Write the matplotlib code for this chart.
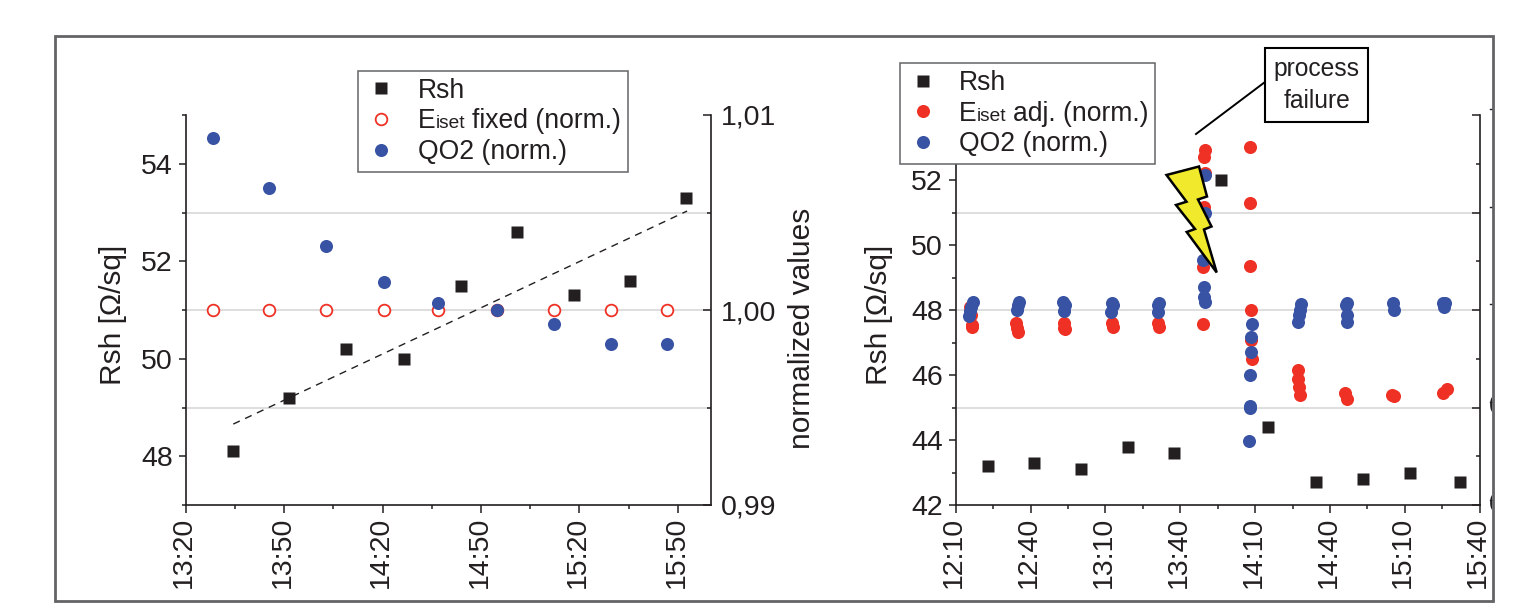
import matplotlib
matplotlib.use("Agg")
import matplotlib.pyplot as plt
from matplotlib.lines import Line2D
from matplotlib.patches import Rectangle, Polygon
from matplotlib.transforms import Affine2D, ScaledTranslation
from matplotlib.ticker import FixedLocator, FixedFormatter
from matplotlib.offsetbox import HPacker, TextArea
from matplotlib.font_manager import FontProperties

# ---- data: times are minutes since midnight, norm values are ratios ----
l_rsh_t = [814.5, 831.5, 848.9, 866.6, 884.0, 901.0, 918.4, 935.5, 952.6]
l_rsh_v = [48.1, 49.2, 50.2, 50.0, 51.5, 52.6, 51.3, 51.6, 53.3]
l_norm_t = [808.3, 825.4, 842.8, 860.5, 876.9, 894.9, 912.3, 929.5, 946.8]
l_eiset_v = [1.0, 1.0, 1.0, 1.0, 1.0, 1.0, 1.0, 1.0, 1.0]
l_qo2_v = [1.00882, 1.00626, 1.00328, 1.00144, 1.00036, 1.0, 0.99928, 0.99826, 0.99826]
l_trend_t = [814.5, 952.8]
l_trend_v = [48.66, 53.03]
l_xticks = [800, 830, 860, 890, 920, 950]
l_xlabels = ["13:20", "13:50", "14:20", "14:50", "15:20", "15:50"]
l_yticks = [48, 50, 52, 54]
l_ygrid = [49, 51, 53]
norm_ticks = [0.99, 1.0, 1.01]
norm_labels = ["0,99", "1,00", "1,01"]

r_rsh_t = [742.9, 761.4, 780.2, 799.1, 817.5, 836.3, 855.0, 874.3, 893.1, 911.9, 932.3]
r_rsh_v = [43.2, 43.3, 43.1, 43.8, 43.6, 52.0, 44.4, 42.7, 42.8, 43.0, 42.7]
r_eiset_t = [735.7, 736.0, 736.5, 736.5,
             754.1, 754.5, 754.9,
             773.3, 773.3, 773.7,
             792.6, 793.0,
             811.0, 811.4,
             830.0, 829.6, 830.0, 829.6, 829.2, 829.2,
             847.9, 847.9, 847.9, 848.3, 848.3, 848.7,
             867.1, 867.1, 867.4, 867.8,
             885.9, 886.7,
             904.8, 905.6,
             926.8, 925.2]
r_eiset_v = [1.00017, 0.99974, 0.99923, 0.99913,
             0.99933, 0.99908, 0.99887,
             0.99933, 0.99908, 0.99903,
             0.99933, 0.99913,
             0.99933, 0.99913,
             1.00821, 1.00785, 1.00703, 1.00528, 1.00221, 0.99928,
             1.00836, 1.00549, 1.00226, 1.0, 0.99846, 0.99749,
             0.99692, 0.99646, 0.99605, 0.99564,
             0.99574, 0.99544,
             0.99564, 0.99559,
             0.99595, 0.99574]
r_qo2_t = [736.8, 736.3, 735.9, 735.5,
           755.3, 754.9, 754.5,
           772.9, 773.7, 773.3,
           792.6, 793.0, 792.2,
           811.4, 811.0, 811.0,
           830.0, 830.0, 829.2, 829.6, 829.6, 830.0,
           848.7, 848.3, 848.3, 847.9, 847.9, 847.9, 847.5,
           868.2, 867.8, 867.4, 867.1,
           886.7, 886.3, 886.7, 886.7,
           905.2, 905.6,
           925.2, 926.0, 925.6]
r_qo2_v = [1.00041, 1.00015, 0.99995, 0.99969,
           1.00041, 1.00026, 1.0,
           1.00041, 1.00026, 0.99995,
           1.00036, 1.00026, 0.9999,
           1.00036, 1.00026, 0.9999,
           1.00692, 1.00497, 1.00256, 1.00118, 1.00067, 1.00041,
           0.99928, 0.99862, 0.99785, 0.99667, 0.99508, 0.99497, 0.99328,
           1.00031, 1.0, 0.99974, 0.99938,
           1.00036, 1.00026, 0.99974, 0.99938,
           1.00036, 1.0,
           1.00036, 1.00036, 1.00015]
r_xticks = [730, 760, 790, 820, 850, 880, 910, 940]
r_xlabels = ["12:10", "12:40", "13:10", "13:40", "14:10", "14:40", "15:10", "15:40"]
r_yticks = [42, 44, 46, 48, 50, 52]
r_ygrid = [45, 48, 51]
r_norm_major = [0.99, 0.995, 1.0, 1.005, 1.01]
r_norm_minor = [0.9925, 0.9975, 1.0025, 1.0075]

# ---- styling ----
BLACK = "#231f20"
RED = "#ee3124"
BLUE = "#3953a4"
GRID = "#d4d5d6"
FRAME = "#636466"
YELLOW = "#f1e92c"
TICK_FS = 20.5
LEG_FS = 19.1
LABEL_FS = 21.5

plt.rcParams["font.family"] = ["Liberation Sans", "DejaVu Sans"]
plt.rcParams["text.color"] = BLACK
plt.rcParams["axes.labelcolor"] = BLACK
plt.rcParams["xtick.color"] = BLACK
plt.rcParams["ytick.color"] = BLACK

W, H = 1521, 610
fig = plt.figure(figsize=(W / 100, H / 100), dpi=100)
PX = Affine2D().scale(1, -1).translate(0, H)  # image pixel coordinates


def box(x0, x1, y0=115, y1=505):
    return [x0 / W, (H - y1) / H, (x1 - x0) / W, (y1 - y0) / H]


def style_axis(ax, xlim, ylim, xt, xl, yt, yminor):
    ax.set_xlim(*xlim)
    ax.set_ylim(*ylim)
    ax.xaxis.set_major_locator(FixedLocator(xt))
    ax.xaxis.set_major_formatter(FixedFormatter(xl))
    ax.xaxis.set_minor_locator(FixedLocator([t + 15 for t in xt if t + 15 <= xlim[1]]))
    ax.yaxis.set_major_locator(FixedLocator(yt))
    ax.yaxis.set_minor_locator(FixedLocator(yminor))
    ax.tick_params(axis="both", which="major", length=5.4, width=1.1, labelsize=TICK_FS, pad=3)
    ax.tick_params(axis="y", which="major", pad=4)
    ax.tick_params(axis="both", which="minor", length=3, width=1.1)
    ax.tick_params(axis="x", labelrotation=90)
    ax.spines["top"].set_visible(False)
    ax.spines["right"].set_visible(False)
    for s in ("left", "bottom"):
        ax.spines[s].set_linewidth(1.2)
        ax.spines[s].set_color(BLACK)
    shift = ScaledTranslation(-1.5 / 100, 0, fig.dpi_scale_trans)
    for lab in ax.get_xticklabels():
        lab.set_transform(lab.get_transform() + shift)


def style_twin(tx):
    tx.spines["top"].set_visible(False)
    tx.spines["left"].set_visible(False)
    tx.spines["bottom"].set_visible(False)
    tx.spines["right"].set_linewidth(1.2)
    tx.spines["right"].set_color(BLACK)
    tx.patch.set_visible(False)
    tx.set_ylim(0.99, 1.01)


def make_legend(tx, handles, anchor, words, textpad):
    leg = tx.legend(handles=handles, loc="upper left", bbox_to_anchor=anchor,
                    bbox_transform=PX, borderaxespad=0, fontsize=LEG_FS,
                    frameon=True, fancybox=False, framealpha=1, edgecolor=FRAME,
                    borderpad=0.25, labelspacing=0.18, handlelength=1.26,
                    handletextpad=textpad)
    leg.get_frame().set_linewidth(1.1)
    leg.set_zorder(20)
    # the "iset" part of the label is set smaller, on the same baseline
    row = leg._legend_handle_box.get_children()[0].get_children()[1]
    big = dict(fontproperties=FontProperties(family="Liberation Sans", size=LEG_FS), color=BLACK)
    small = dict(fontproperties=FontProperties(family="Liberation Sans", size=LEG_FS * 0.72), color=BLACK)
    head = HPacker(children=[TextArea("E", textprops=big), TextArea("iset", textprops=small)],
                   align="baseline", pad=0, sep=0)
    row._children[1] = HPacker(children=[head, TextArea(words, textprops=big)],
                               align="baseline", pad=0, sep=5)
    row.set_figure(fig)
    return leg


sq = dict(marker="s", ls="none", ms=8.4, mfc=BLACK, mec="none")
dot_b = dict(marker="o", ls="none", ms=9.4, mfc=BLUE, mec="none")
dot_r = dict(marker="o", ls="none", ms=9.4, mfc=RED, mec="none")

# ---- left panel ----
ax1 = fig.add_axes(box(185.7, 710.7))
style_axis(ax1, (800, 960), (47, 55), l_xticks, l_xlabels, l_yticks, [47, 49, 51, 53, 55])
for g in l_ygrid:
    ax1.axhline(g, color=GRID, lw=1.1, zorder=1)
ax1.plot(l_trend_t, l_trend_v, color=BLACK, lw=1.0, dashes=(5.2, 4.2), zorder=2)
h_rsh1, = ax1.plot(l_rsh_t, l_rsh_v, label="Rsh", zorder=3, **sq)
ax1.set_ylabel("Rsh [Ω/sq]", fontsize=LABEL_FS)
ax1.yaxis.set_label_coords((127 - 185.7) / 525, 0.487)

tx1 = ax1.twinx()
style_twin(tx1)
tx1.yaxis.set_major_locator(FixedLocator(norm_ticks))
tx1.yaxis.set_major_formatter(FixedFormatter(norm_labels))
tx1.yaxis.set_minor_locator(FixedLocator([0.995, 1.005]))
tx1.tick_params(axis="y", which="major", direction="in", length=5.6, width=1.1,
                labelsize=TICK_FS, pad=7)
tx1.tick_params(axis="y", which="minor", direction="in", length=3, width=1.1)
h_e1, = tx1.plot(l_norm_t, l_eiset_v, label="Eiset fixed (norm.)", marker="o", ls="none",
                 ms=8.4, mfc="white", mec=RED, mew=1.3, zorder=3)
h_q1, = tx1.plot(l_norm_t, l_qo2_v, label="QO2 (norm.)", zorder=4, **dot_b)
tx1.set_ylabel("normalized values", fontsize=LABEL_FS)
tx1.yaxis.set_label_coords((788 - 185.7) / 525, (505 - 328) / 390)
make_legend(tx1, [h_rsh1, h_e1, h_q1], (357.7, 71), "fixed (norm.)", 0.77)

# ---- right panel ----
ax2 = fig.add_axes(box(955.7, 1479.7))
style_axis(ax2, (730, 940), (42, 54), r_xticks, r_xlabels, r_yticks, [43, 45, 47, 49, 51])
for g in r_ygrid:
    ax2.axhline(g, color=GRID, lw=1.1, zorder=1)
h_rsh2, = ax2.plot(r_rsh_t, r_rsh_v, label="Rsh", zorder=3, **sq)
ax2.set_ylabel("Rsh [Ω/sq]", fontsize=LABEL_FS)
ax2.yaxis.set_label_coords((893 - 955.7) / 524, 0.487)

tx2 = ax2.twinx()
style_twin(tx2)
tx2.yaxis.set_major_locator(FixedLocator(r_norm_major))
tx2.yaxis.set_minor_locator(FixedLocator(r_norm_minor))
tx2.tick_params(axis="y", which="major", direction="in", length=5.6, width=1.1, labelright=False)
tx2.tick_params(axis="y", which="minor", direction="in", length=3, width=1.1)
h_e2, = tx2.plot(r_eiset_t, r_eiset_v, label="Eiset adj. (norm.)", zorder=3, **dot_r)
h_q2, = tx2.plot(r_qo2_t, r_qo2_v, label="QO2 (norm.)", zorder=4, **dot_b)
make_legend(tx2, [h_rsh2, h_e2, h_q2], (900, 63.3), "adj. (norm.)", 0.7)

# ---- annotation: lightning bolt and call-out ----
bolt = [(1166.5, 175), (1199, 166.5), (1207, 196.5), (1198, 199.5), (1211.5, 226.5),
        (1204, 229.5), (1216.7, 272.5), (1186.7, 232), (1195, 229), (1176, 205),
        (1186.5, 201.7)]
fig.add_artist(Polygon(bolt, closed=True, transform=PX, facecolor=YELLOW, edgecolor="black",
                       lw=1.8, joinstyle="miter", zorder=10))
fig.add_artist(Line2D([1196, 1265], [134, 82], transform=PX, color="black", lw=1.4, zorder=10))
fig.add_artist(Rectangle((1265, 48), 103, 74, transform=PX, facecolor="white",
                         edgecolor="black", lw=1.5, zorder=11))
fig.text(1316.5, 85, "process\nfailure", transform=PX, ha="center", va="center",
         fontsize=17.7, linespacing=1.4, zorder=12)

# ---- outer frame and what is cut off at its right edge ----
fig.add_artist(Rectangle((55, 35.5), 1438, 565.5, transform=PX, fill=False,
                         edgecolor=FRAME, lw=2.0, zorder=15))
for yy in (109, 207, 304, 402, 500):
    fig.add_artist(Line2D([1489.5, 1492], [yy, yy], transform=PX, color=BLACK, lw=1.0, zorder=14))
clip = Rectangle((1486, 380), 6, 140, transform=PX)
for yy in (407, 505):
    t = fig.text(1488.5, yy, "0", transform=PX, ha="left", va="center", fontsize=TICK_FS, zorder=14)
    t.set_clip_path(clip)

fig.savefig("out.png", dpi=100)
